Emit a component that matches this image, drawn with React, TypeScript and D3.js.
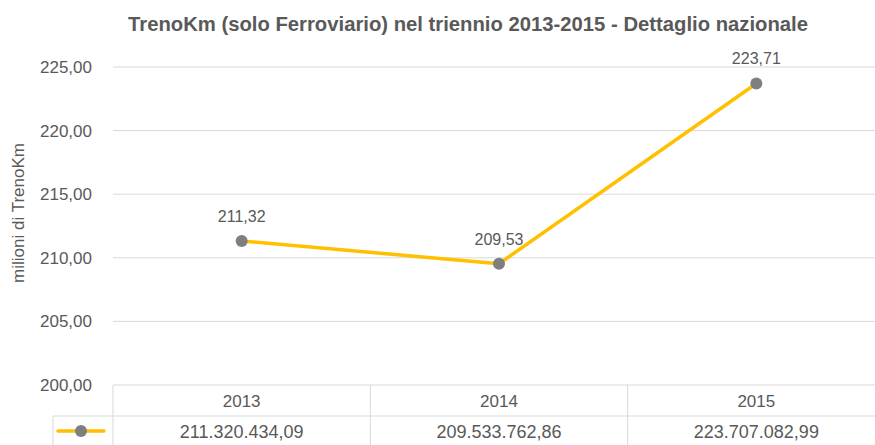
import * as d3 from "d3";

const years = ["2013", "2014", "2015"];
const trenoKm = [211.320434, 209.533763, 223.707083];
const tableValues = ["211.320.434,09", "209.533.762,86", "223.707.082,99"];
const yTicks = [200, 205, 210, 215, 220, 225];

const W = 875;
const H = 445;
const font = "'Liberation Sans', Arial, sans-serif";
const textColor = "#595959";
const gridColor = "#D9D9D9";
const lineColor = "#FFC000";
const markerColor = "#7F7F7F";

const fmt = (v: number) => v.toFixed(2).replace(".", ",");

export default function App() {
  const left = 113;
  const right = 885;
  const legendLeft = 53;
  const top = 67;
  const bottom = 385;
  const rowSplit = 416;

  const x = d3.scaleBand<string>().domain(years).range([left, right]);
  const y = d3.scaleLinear().domain([200, 225]).range([bottom, top]);

  const points = years.map((yr, i) => ({ yr, v: trenoKm[i] }));
  const line = d3
    .line<{ yr: string; v: number }>()
    .x((d) => (x(d.yr) ?? 0) + x.bandwidth() / 2)
    .y((d) => y(d.v));

  return (
    <svg width={W} height={H} style={{ position: "absolute", left: 0, top: 0, background: "#fff" }}>
      <text
        x={468}
        y={31}
        textAnchor="middle"
        fontFamily={font}
        fontWeight="bold"
        fontSize={21}
        fill={textColor}
        textLength={680}
        lengthAdjust="spacingAndGlyphs"
      >
        TrenoKm (solo Ferroviario) nel triennio 2013-2015 - Dettaglio nazionale
      </text>

      {yTicks.map((t) => (
        <g key={t}>
          {t !== 200 && <line x1={left} x2={right} y1={y(t)} y2={y(t)} stroke={gridColor} strokeWidth={1} />}
          <text x={92} y={y(t) + 6} textAnchor="end" fontFamily={font} fontSize={17} fill={textColor}>
            {fmt(t)}
          </text>
        </g>
      ))}

      <text
        transform={`translate(24,${213}) rotate(-90)`}
        textAnchor="middle"
        fontFamily={font}
        fontSize={17}
        fill={textColor}
      >
        milioni di TrenoKm
      </text>

      {/* data table */}
      <line x1={left} x2={right} y1={bottom} y2={bottom} stroke={gridColor} />
      <line x1={legendLeft} x2={right} y1={rowSplit} y2={rowSplit} stroke={gridColor} />
      <line x1={legendLeft} x2={legendLeft} y1={rowSplit} y2={H} stroke={gridColor} />
      {years.map((yr, i) => (
        <g key={yr}>
          <line x1={x(yr) ?? 0} x2={x(yr) ?? 0} y1={bottom} y2={H} stroke={gridColor} />
          <text
            x={(x(yr) ?? 0) + x.bandwidth() / 2}
            y={407}
            textAnchor="middle"
            fontFamily={font}
            fontSize={17}
            fill={textColor}
          >
            {yr}
          </text>
          <text
            x={(x(yr) ?? 0) + x.bandwidth() / 2}
            y={438}
            textAnchor="middle"
            fontFamily={font}
            fontSize={18}
            fill={textColor}
          >
            {tableValues[i]}
          </text>
        </g>
      ))}
      <line x1={58} x2={104} y1={431} y2={431} stroke={lineColor} strokeWidth={3.5} strokeLinecap="round" />
      <circle cx={81} cy={431} r={6} fill={markerColor} />

      <path d={line(points) ?? ""} fill="none" stroke={lineColor} strokeWidth={3.5} strokeLinejoin="round" />
      {points.map((p) => {
        const cx = (x(p.yr) ?? 0) + x.bandwidth() / 2;
        return (
          <g key={p.yr}>
            <circle cx={cx} cy={y(p.v)} r={6} fill={markerColor} />
            <text x={cx} y={y(p.v) - 19} textAnchor="middle" fontFamily={font} fontSize={16} fill={textColor}>
              {fmt(p.v)}
            </text>
          </g>
        );
      })}
    </svg>
  );
}
